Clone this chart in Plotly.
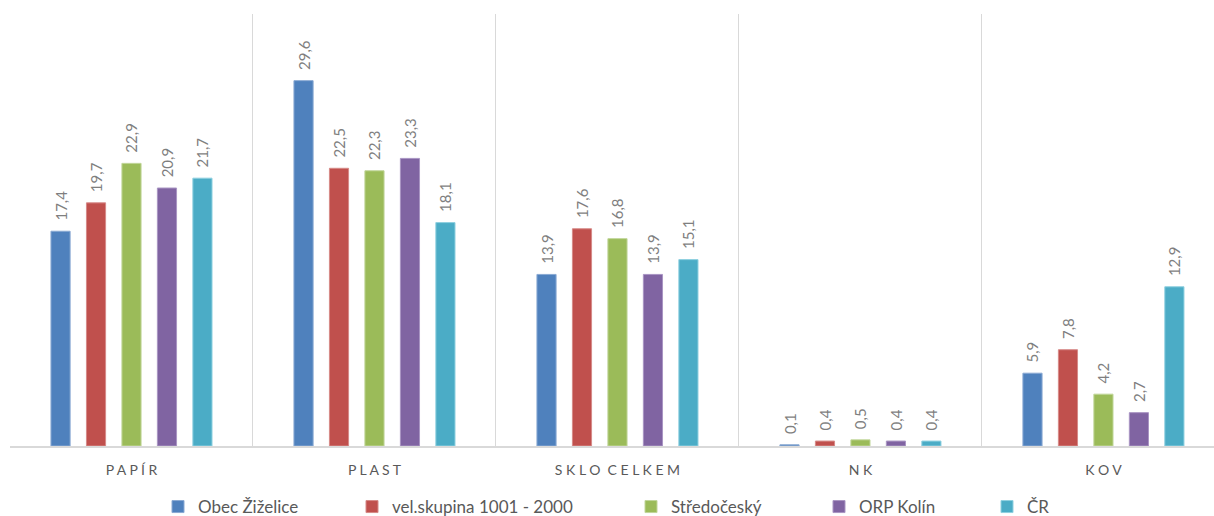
import plotly.graph_objects as go

categories = ["P A P Í R", "P L A S T", "S K L O\u00a0\u00a0C E L K E M", "N K", "K O V"]
series_names = ["Obec Žiželice", "vel.skupina 1001 - 2000", "Středočeský", "ORP Kolín", "ČR"]
obec = [17.4, 29.6, 13.9, 0.1, 5.9]
velskupina = [19.7, 22.5, 17.6, 0.4, 7.8]
stredocesky = [22.9, 22.3, 16.8, 0.5, 4.2]
orp_kolin = [20.9, 23.3, 13.9, 0.4, 2.7]
cr = [21.7, 18.1, 15.1, 0.4, 12.9]

series_values = [obec, velskupina, stredocesky, orp_kolin, cr]
colors = ["#4F81BD", "#C0504D", "#9BBB59", "#8064A2", "#4BACC6"]
edge_colors = ["#8aa9d3", "#d68a88", "#c1d69a", "#a995c3", "#8fd0e0"]
legend_px = [180, 374, 653, 841, 1009]

FONT = "Lato, Carlito, 'Open Sans', sans-serif"

fig = go.Figure()
for i, (name, vals) in enumerate(zip(series_names, series_values)):
    lg = "legend" if i == 0 else f"legend{i+1}"
    fig.add_trace(go.Bar(
        x=categories, y=vals, name=name,
        marker=dict(color=colors[i], line=dict(color=edge_colors[i], width=1)),
        texttemplate="\u00a0\u00a0%{y:.1f}",
        textposition="outside", textangle=-90, constraintext="none",
        cliponaxis=False,
        textfont=dict(family=FONT, size=15, color="#7f7f7f"),
        legend=lg,
    ))

layout_legends = {}
for i, px in enumerate(legend_px):
    key = "legend" if i == 0 else f"legend{i+1}"
    layout_legends[key] = dict(
        x=(px - 10 - 22) / 1204, xanchor="left",
        y=(446 - 507) / 432, yanchor="middle",
        orientation="h",
        font=dict(family=FONT, size=17, color="#595959"),
        bgcolor="rgba(0,0,0,0)", borderwidth=0,
        itemwidth=30,
    )

fig.update_layout(
    width=1214, height=516,
    margin=dict(l=10, r=0, t=14, b=70, autoexpand=False),
    paper_bgcolor="white", plot_bgcolor="white",
    barmode="group", bargap=0.27, bargroupgap=0.46,
    separators=",.",
    showlegend=True,
    font=dict(family=FONT, color="#595959"),
    xaxis=dict(
        type="category", tickson="boundaries", showgrid=True,
        gridcolor="#d9d9d9", gridwidth=1,
        showline=True, linecolor="#d9d9d9", linewidth=2,
        ticks="", range=[-0.5, 4.455],
        tickfont=dict(family=FONT, size=14, color="#595959"),
        ticklabelstandoff=10,
    ),
    yaxis=dict(range=[0, 35], visible=False, showgrid=False, zeroline=False),
    **layout_legends,
)

fig.write_html(
    "out.html",
    config={"displayModeBar": False},
    post_script="document.body.style.margin='0';document.body.style.overflow='hidden';",
)
